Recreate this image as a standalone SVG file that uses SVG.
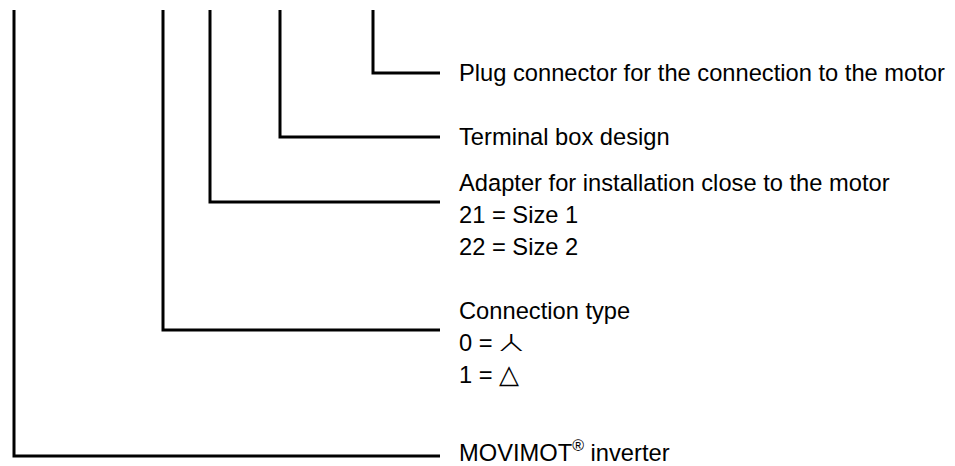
<svg xmlns="http://www.w3.org/2000/svg" width="955" height="466" viewBox="0 0 955 466">
<style>
.c{fill:none;stroke:#000;stroke-width:3;stroke-linecap:butt;stroke-linejoin:miter}
.t{font-family:"Liberation Sans",Arial,sans-serif;font-size:23.7px;fill:#000}
.s{font-family:"DejaVu Sans",sans-serif;font-size:26px;font-weight:200;fill:#000}
</style>
<rect width="955" height="466" fill="#fff"/>
<g id="connectors">
<polyline class="c" points="373,10 373,73 440,73"/>
<polyline class="c" points="280,10 280,137 440,137"/>
<polyline class="c" points="210,10 210,202 440,202"/>
<polyline class="c" points="163,10 163,330 440,330"/>
<polyline class="c" points="14,10 14,456 440,456"/>
</g>
<g id="plug"><text class="t" x="459" y="81">Plug connector for the connection to the motor</text></g>
<g id="terminal"><text class="t" x="459" y="145">Terminal box design</text></g>
<g id="adapter">
<text class="t" x="459" y="191">Adapter for installation close to the motor</text>
<text class="t" x="459" y="223">21 = Size 1</text>
<text class="t" x="459" y="255">22 = Size 2</text>
</g>
<g id="connection">
<text class="t" x="459" y="319">Connection type</text>
<text class="t" x="459" y="351">0 =</text>
<text class="s" transform="translate(499,351) scale(1.5,0.9)">⅄</text>
<text class="t" x="459" y="383">1 = <tspan class="s">△</tspan></text>
</g>
<g id="inverter"><text class="t" x="459" y="461">MOVIMOT<tspan font-size="16" dy="-10">®</tspan><tspan dy="10"> inverter</tspan></text></g>
</svg>
